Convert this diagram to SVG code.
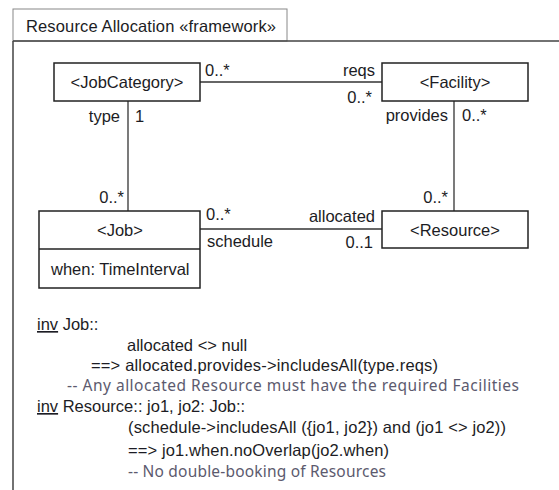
<svg xmlns="http://www.w3.org/2000/svg" width="559" height="490" viewBox="0 0 559 490">
<style>
text{font-family:"Liberation Sans",Arial,sans-serif;font-size:16.5px;fill:#1c1c24}
.c{text-anchor:middle}
.r{text-anchor:end}
.box{fill:#fff;stroke:#222;stroke-width:1.5}
.ln{fill:none;stroke:#333;stroke-width:1.3}
.cm{font-family:"Noto Sans","Open Sans",sans-serif;fill:#5c5a6e;font-size:15.5px}
</style>
<rect width="559" height="490" fill="#fff"/>
<g id="frame">
<rect x="13" y="9" width="274" height="32" fill="#fff" stroke="#888" stroke-width="1"/>
<path d="M13 41 V490 M13 41 H559" fill="none" stroke="#444" stroke-width="1.5"/>
<text x="26" y="32" textLength="250">Resource Allocation «framework»</text>
</g>
<g id="connectors">
<line class="ln" x1="200" y1="82" x2="382" y2="82"/>
<line class="ln" x1="128" y1="101" x2="128" y2="211"/>
<line class="ln" x1="454" y1="101" x2="454" y2="211"/>
<line class="ln" x1="200" y1="229" x2="382" y2="229"/>
<text x="205" y="76">0..*</text>
<text class="r" x="375" y="76">reqs</text>
<text class="r" x="372" y="103">0..*</text>
<text class="r" x="120" y="122">type</text>
<text x="135" y="122">1</text>
<text class="r" x="448" y="121">provides</text>
<text x="462" y="121">0..*</text>
<text class="r" x="124" y="203">0..*</text>
<text x="206" y="220">0..*</text>
<text x="207" y="247">schedule</text>
<text class="r" x="448" y="203">0..*</text>
<text class="r" x="375" y="222">allocated</text>
<text class="r" x="373" y="248">0..1</text>
</g>
<g id="JobCategory">
<rect class="box" x="54" y="63" width="146" height="38"/>
<text class="c" x="127" y="88">&lt;JobCategory&gt;</text>
</g>
<g id="Facility">
<rect class="box" x="382" y="63" width="146" height="38"/>
<text class="c" x="455" y="88">&lt;Facility&gt;</text>
</g>
<g id="Job">
<rect class="box" x="39" y="211" width="161" height="77"/>
<line class="box" x1="39" y1="249" x2="200" y2="249"/>
<text class="c" x="120" y="236">&lt;Job&gt;</text>
<text x="51" y="275">when: TimeInterval</text>
</g>
<g id="Resource">
<rect class="box" x="382" y="211" width="146" height="37"/>
<text class="c" x="455" y="236">&lt;Resource&gt;</text>
</g>
<g id="constraints">
<text x="37" y="330"><tspan text-decoration="underline">inv</tspan> Job::</text>
<text x="127" y="351">allocated &lt;&gt; null</text>
<text x="91" y="371" textLength="347">==&gt; allocated.provides-&gt;includesAll(type.reqs)</text>
<text class="cm" x="67" y="391" textLength="452">-- Any allocated Resource must have the required Facilities</text>
<text x="37" y="412"><tspan text-decoration="underline">inv</tspan> Resource:: jo1, jo2: Job::</text>
<text x="128" y="433" textLength="378">(schedule-&gt;includesAll ({jo1, jo2}) and (jo1 &lt;&gt; jo2))</text>
<text x="128" y="456" textLength="261">==&gt; jo1.when.noOverlap(jo2.when)</text>
<text class="cm" x="128" y="477" textLength="258">-- No double-booking of Resources</text>
</g>
</svg>
